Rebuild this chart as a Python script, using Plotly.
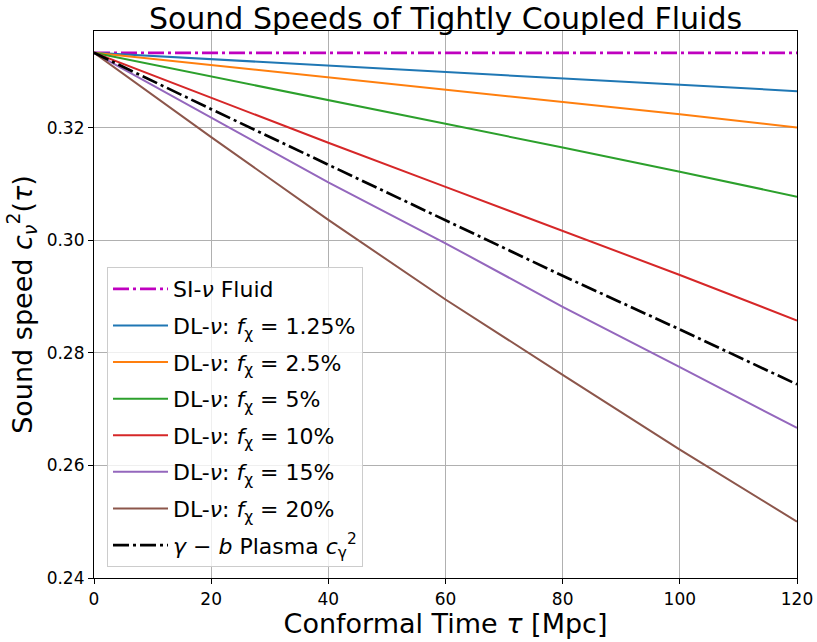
import plotly.graph_objects as go

tau = [0, 20, 40, 60, 80, 100, 120]

si_fluid = [0.33333, 0.33333, 0.33333, 0.33333, 0.33333, 0.33333, 0.33333]
dl_125 = [0.33333, 0.33220, 0.33107, 0.32994, 0.32882, 0.32775, 0.32651]
dl_25 = [0.33333, 0.33115, 0.32897, 0.32676, 0.32457, 0.32240, 0.32005]
dl_5 = [0.33333, 0.32915, 0.32495, 0.32075, 0.31650, 0.31220, 0.30776]
dl_10 = [0.33333, 0.32530, 0.31735, 0.30950, 0.30165, 0.29385, 0.28576]
dl_15 = [0.33333, 0.32189, 0.31030, 0.29948, 0.28819, 0.27748, 0.26666]
dl_20 = [0.33333, 0.31835, 0.30363, 0.28949, 0.27610, 0.26282, 0.25001]
plasma = [0.33333, 0.32331, 0.31344, 0.30363, 0.29370, 0.28417, 0.27441]

x_ticks = [0, 20, 40, 60, 80, 100, 120]
y_ticks = [0.24, 0.26, 0.28, 0.30, 0.32]
y_tick_labels = ["0.24", "0.26", "0.28", "0.30", "0.32"]

FONT = "DejaVu Sans"
DASHDOT = "16px,4px,3px,4px"

series = [
    ("SI-<i>ν</i> Fluid", si_fluid, "#bf00bf", 2.7, DASHDOT),
    ("DL-<i>ν</i>: <i>f</i><sub>χ</sub> = 1.25%", dl_125, "#1f77b4", 2, "solid"),
    ("DL-<i>ν</i>: <i>f</i><sub>χ</sub> = 2.5%", dl_25, "#ff7f0e", 2, "solid"),
    ("DL-<i>ν</i>: <i>f</i><sub>χ</sub> = 5%", dl_5, "#2ca02c", 2, "solid"),
    ("DL-<i>ν</i>: <i>f</i><sub>χ</sub> = 10%", dl_10, "#d62728", 2, "solid"),
    ("DL-<i>ν</i>: <i>f</i><sub>χ</sub> = 15%", dl_15, "#9467bd", 2, "solid"),
    ("DL-<i>ν</i>: <i>f</i><sub>χ</sub> = 20%", dl_20, "#8c564b", 2, "solid"),
    ("<i>γ</i> − <i>b</i> Plasma <i>c</i><sub>γ</sub><sup>2</sup>", plasma, "#000000", 2.7, DASHDOT),
]

fig = go.Figure()
for i, (name, ys, color, w, dash) in enumerate(series):
    fig.add_trace(go.Scatter(
        x=tau, y=ys, mode="lines", name=name,
        line=dict(color=color, width=w, dash=dash),
        legendgroup=f"g{i}",
    ))

axis_common = dict(
    showline=True, linecolor="black", linewidth=1.2, mirror=True,
    ticks="outside", ticklen=5, tickwidth=1.2, tickcolor="black",
    showgrid=True, gridcolor="#b0b0b0", gridwidth=1,
    zeroline=False, automargin=False,
    tickfont=dict(family=FONT, size=17, color="black"),
)

fig.update_layout(
    width=817, height=642,
    margin=dict(l=94, r=20, t=31, b=64),
    paper_bgcolor="white", plot_bgcolor="white",
    font=dict(family=FONT, color="black"),
    title=dict(
        text="Sound Speeds of Tightly Coupled Fluids",
        x=0.5, xref="paper", y=0.988, yanchor="top",
        font=dict(family=FONT, size=30, color="black"),
    ),
    xaxis=dict(
        range=[0, 120], tickvals=x_ticks,
        title=dict(text="Conformal Time <i>τ</i> [Mpc]", font=dict(family=FONT, size=27, color="black"), standoff=1),
        **axis_common,
    ),
    yaxis=dict(
        range=[0.24, 0.3372], tickvals=y_ticks, ticktext=y_tick_labels,
        title=dict(text="Sound speed <i>c</i><sub><i>ν</i></sub><sup>2</sup>(<i>τ</i>)", font=dict(family=FONT, size=27, color="black"), standoff=6),
        **axis_common,
    ),
    legend=dict(
        x=0.0185, y=0.02, xanchor="left", yanchor="bottom",
        bgcolor="rgba(255,255,255,0.8)", bordercolor="#cccccc", borderwidth=1,
        font=dict(family=FONT, size=22, color="black"),
        traceorder="grouped", tracegroupgap=5, itemwidth=55,
    ),
    showlegend=True,
)

fig.write_html(
    "out.html",
    config={"displayModeBar": False},
    post_script="document.body.style.margin='0px';document.body.style.padding='0px';",
)
